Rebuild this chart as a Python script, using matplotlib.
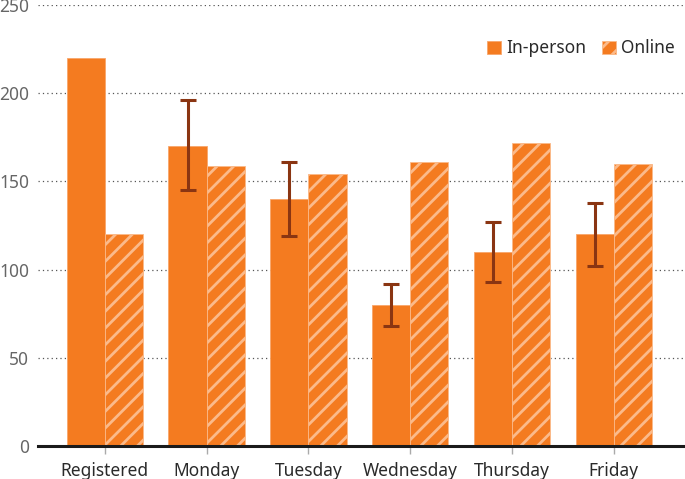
import numpy as np
import matplotlib.pyplot as plt

plt.rcParams['font.family'] = ['Noto Sans', 'DejaVu Sans']
plt.rcParams['hatch.linewidth'] = 2.0

categories = ['Registered', 'Monday', 'Tuesday', 'Wednesday', 'Thursday', 'Friday']
in_person = [220, 170, 140, 80, 110, 120]
online = [120, 159, 154, 161, 172, 160]
err_low = [None, 145, 119, 68, 93, 102]
err_high = [None, 196, 161, 92, 127, 138]

orange = '#F47B20'
light = '#FBBA8A'
dark = '#8A3512'

fig, ax = plt.subplots(figsize=(6.85, 4.79), dpi=100)
fig.subplots_adjust(left=0.055, right=1.0, top=0.99, bottom=0.068)

x = np.arange(len(categories))
w = 0.375
ax.bar(x - w / 2, in_person, w, color=orange, edgecolor='#F8A66A', linewidth=0.6,
       label='In-person', zorder=2)
ax.bar(x + w / 2, online, w, color=orange, edgecolor=light, hatch='//', linewidth=0.6,
       label='Online', zorder=2)

for i in range(len(categories)):
    if err_low[i] is None:
        continue
    lo = in_person[i] - err_low[i]
    hi = err_high[i] - in_person[i]
    ax.errorbar(x[i] - w / 2, in_person[i], yerr=[[lo], [hi]], fmt='none',
                ecolor=dark, elinewidth=2.2, capsize=5.5, capthick=2.2, zorder=3)

ax.set_ylim(0, 250)
ax.set_xlim(-0.66, 5.7)
ax.set_yticks([0, 50, 100, 150, 200, 250])
ax.yaxis.grid(True, linestyle=(0, (1, 2.5)), color='#555555', linewidth=0.9, zorder=0)
ax.set_xticks(x)
ax.set_xticklabels(categories, fontsize=12.5, color='#2a2a2a')
ax.tick_params(axis='x', length=6, width=1, color='#aaaaaa', pad=5)
ax.tick_params(axis='y', length=0, labelsize=12.5, labelcolor='#666666', pad=6)
for lbl in ax.get_yticklabels():
    lbl.set_fontweight('light')

for s in ['top', 'right', 'left']:
    ax.spines[s].set_visible(False)
ax.spines['bottom'].set_linewidth(2.2)
ax.spines['bottom'].set_color('#1a1a1a')
ax.spines['bottom'].set_zorder(4)

# hide gridline at 0 under the axis line
ax.get_ygridlines()[0].set_visible(False)

leg = ax.legend(loc='upper right', bbox_to_anchor=(1.0, 0.945), ncol=2, frameon=False,
                fontsize=12.5, handlelength=0.8, handleheight=0.8, handletextpad=0.3,
                columnspacing=0.9, borderaxespad=0.2)
for t in leg.get_texts():
    t.set_color('#2a2a2a')

fig.savefig('out.png', dpi=100)
